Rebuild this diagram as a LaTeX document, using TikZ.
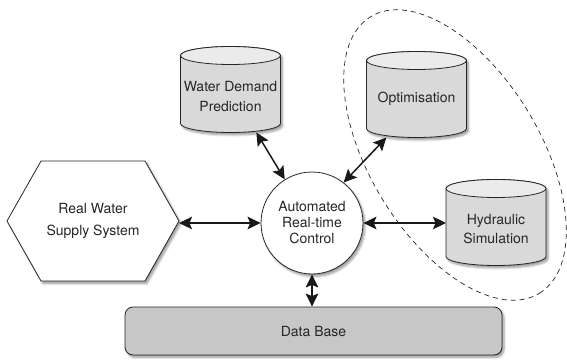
\documentclass[tikz,border=0pt]{standalone}
\usepackage{fontspec}
\setmainfont{TeX Gyre Heros}
\usetikzlibrary{calc,arrows.meta,shadows.blur}
\newcommand{\drawcyl}[1]{%
  \path[cylbody] ($(#1.north west)+(0,-9)$) -- ($(#1.south west)+(0,9)$)
    arc[start angle=180,end angle=360,x radius=50pt,y radius=9pt]
    -- ($(#1.north east)+(0,-9)$)
    arc[start angle=0,end angle=180,x radius=50pt,y radius=9pt] -- cycle;
  \draw[cyltop] ($(#1.north west)+(0,-9)$)
    arc[start angle=180,end angle=360,x radius=50pt,y radius=9pt]
    arc[start angle=0,end angle=180,x radius=50pt,y radius=9pt] -- cycle;
}
\tikzset{
  x=1pt,y=1pt,
  every node/.style={font=\fontsize{14}{18}\selectfont, text=black!85},
  cylbox/.style={rectangle,draw=none,minimum width=100pt,minimum height=86pt,inner sep=0pt,outer sep=0pt},
  cylbody/.style={fill=black!15,draw=black!85,line width=0.8pt,
    blur shadow={shadow xshift=2pt,shadow yshift=-2.5pt,shadow blur steps=6,shadow opacity=40}},
  cyltop/.style={fill=black!8,draw=black!85,line width=0.8pt},
  txt/.style={align=center,inner sep=0pt},
  ctlstyle/.style={circle,draw=black!85,fill=white,line width=0.8pt,minimum size=102pt,inner sep=0pt,
    align=center,font=\fontsize{14}{16}\selectfont,
    blur shadow={shadow xshift=2pt,shadow yshift=-2.5pt,shadow blur steps=6,shadow opacity=40}},
  dbstyle/.style={rectangle,rounded corners=8pt,draw=black!85,fill=black!22,line width=0.8pt,
    minimum width=377pt,minimum height=48pt,inner sep=0pt,
    blur shadow={shadow xshift=2pt,shadow yshift=-2.5pt,shadow blur steps=6,shadow opacity=40}},
  hexbox/.style={rectangle,draw=none,minimum width=172pt,minimum height=120pt,inner sep=0pt,outer sep=0pt,
    align=center,font=\fontsize{14}{22}\selectfont},
  hexline/.style={draw=black!85,fill=white,line width=0.8pt,
    blur shadow={shadow xshift=2pt,shadow yshift=-2.5pt,shadow blur steps=6,shadow opacity=40}},
  biarrow/.style={line width=1.5pt,draw=black!90,
    {Stealth[length=13pt,width=12.5pt,inset=2.5pt]}-{Stealth[length=13pt,width=12.5pt,inset=2.5pt]}},
  group/.style={dashed,dash pattern=on 5pt off 4pt,line width=0.7pt,draw=black!85}
}
\begin{document}
\begin{tikzpicture}
\useasboundingbox (0,0) rectangle (567,359);
% dashed group ellipse
\draw[group,rotate around={-58.6:(455,204)}] (455,204) ellipse [x radius=162pt,y radius=85pt];
% cylinders
\node[cylbox] (wdp) at (230.5,269.5) {};
\node[cylbox] (opt) at (416.5,264.5) {};
\node[cylbox] (hyd) at (496,136.5) {};
\drawcyl{wdp}
\drawcyl{opt}
\drawcyl{hyd}
\node[txt,font=\fontsize{14}{20}\selectfont] (wdpt) at (230.5,262) {Water Demand\\Prediction};
\node[txt] (optt) at (416.5,260) {Optimisation};
\node[txt,font=\fontsize{14}{19}\selectfont] (hydt) at (496,129.5) {Hydraulic\\Simulation};
% hexagon
\node[hexbox] (hex) at (93,138) {};
\path[hexline] (hex.west) -- ($(hex.north west)+(34,0)$) -- ($(hex.north east)+(-34,0)$)
  -- (hex.east) -- ($(hex.south east)+(-34,0)$) -- ($(hex.south west)+(34,0)$) -- cycle;
\node[txt,font=\fontsize{14}{22}\selectfont] (hext) at (hex.center) {Real Water\\Supply System};
% control
\node[ctlstyle] (ctl) at (312,136) {Automated\\Real-time\\Control};
% database
\node[dbstyle] (db) at (313.5,28) {Data Base};
% connectors
\draw[biarrow] (wdp.-59) -- (ctl.122);
\draw[biarrow] (opt.-125) -- (ctl.52);
\draw[biarrow] (ctl.west -| hex.east) -- (ctl.west);
\draw[biarrow] (ctl.east) -- (ctl.east -| hyd.west);
\draw[biarrow] (ctl.south) -- (db.north -| ctl.south);
\end{tikzpicture}
\end{document}
